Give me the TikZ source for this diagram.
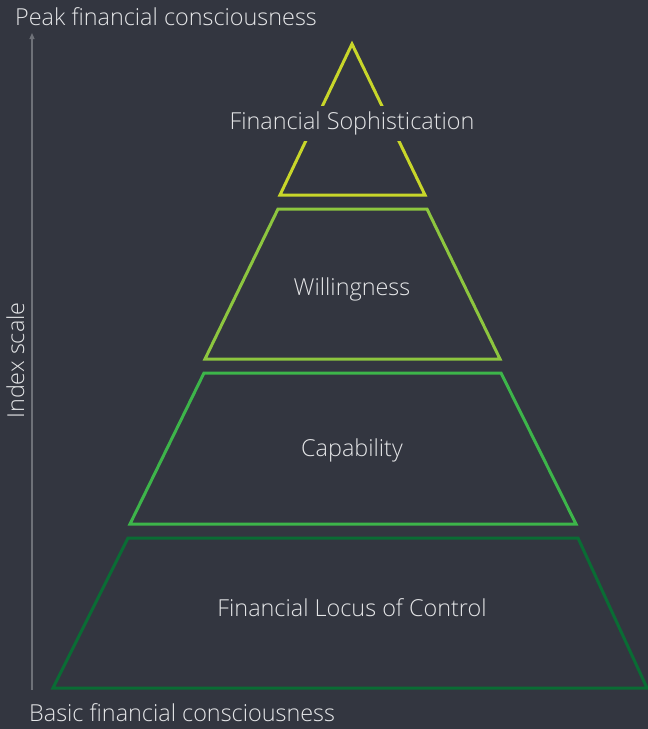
\documentclass[tikz,border=0pt]{standalone}
\usepackage{fontspec}
\IfFontExistsTF{Open Sans Light}{\setmainfont{Open Sans Light}}{\setmainfont{Open Sans}}
\usetikzlibrary{arrows.meta}
\definecolor{bg}{RGB}{51,54,64}
\definecolor{txt}{RGB}{228,229,231}
\definecolor{axisc}{RGB}{110,113,120}
\definecolor{lvA}{RGB}{200,214,42}
\definecolor{lvB}{RGB}{141,198,63}
\definecolor{lvC}{RGB}{61,181,74}
\definecolor{lvD}{RGB}{10,108,52}
\begin{document}
\begin{tikzpicture}[x=1pt,y=-1pt,
  lbl/.style={text=txt,font=\fontsize{23.4}{27}\selectfont,inner sep=0pt},
  level/.style={line width=3pt,line join=miter},
  lvtext/.style={lbl,fill=bg,inner xsep=4pt,inner ysep=6pt}]
\fill[bg] (0,0) rectangle (648,729);
\useasboundingbox (0,0) rectangle (648,729);
% axis
\coordinate (axb) at (32,690);
\coordinate (axt) at (32,33);
\draw[axisc,line width=1.2pt,-{Triangle[length=6pt,width=5pt]}] (axb) -- (axt);
\node[lbl,anchor=base west] (peak) at (15,25) {Peak financial consciousness};
\node[lbl,anchor=base west] (basic) at (29,721.5) {Basic financial consciousness};
\node[lbl,rotate=90,anchor=base] (idx) at (24,360.5) {Index scale};
% levels
\draw[level,lvD] (128,538) -- (578,538) -- (647,688) -- (53,688) -- cycle;
\draw[level,lvC] (204,373) -- (501,373) -- (576,524) -- (130,524) -- cycle;
\draw[level,lvB] (278,209) -- (427,209) -- (500,359) -- (205,359) -- cycle;
\draw[level,lvA] (352,44) -- (425,195) -- (280,195) -- cycle;
\node[lvtext,anchor=base] (soph) at (352,129.5) {Financial Sophistication};
\node[lbl,anchor=base] (will) at (352,295.5) {Willingness};
\node[lbl,anchor=base] (cap) at (352,456.5) {Capability};
\node[lbl,anchor=base] (locus) at (352,616.5) {Financial Locus of Control};
\end{tikzpicture}
\end{document}
